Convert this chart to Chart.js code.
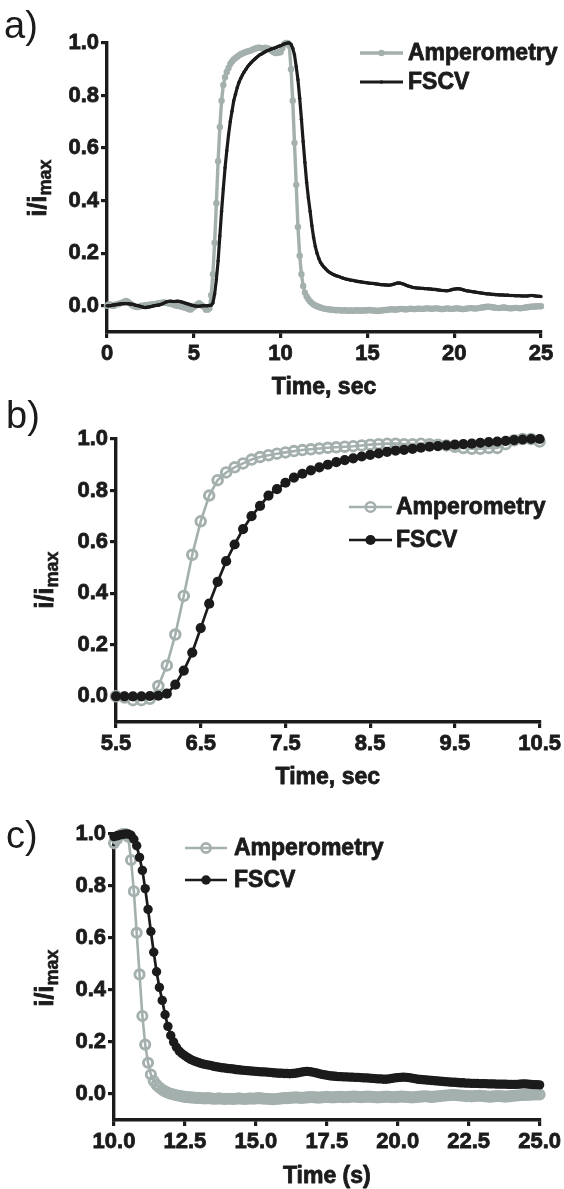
<!DOCTYPE html>
<html><head><meta charset="utf-8">
<script src="https://cdn.jsdelivr.net/npm/chart.js@4.4.1/dist/chart.umd.min.js"></script>
<style>
html,body{margin:0;padding:0;background:#fff;width:564px;height:1189px;overflow:hidden}
.p{position:absolute;left:0;width:564px}
</style></head><body>
<div class="p" style="top:0;height:400px"><canvas id="ca"></canvas></div>
<div class="p" style="top:400px;height:390px"><canvas id="cb"></canvas></div>
<div class="p" style="top:790px;height:399px"><canvas id="cc"></canvas></div>
<script>
// ---- data (time in s, normalised current i/imax) ----
const time = [
0.0,0.1,0.2,0.3,0.4,0.5,0.6,0.7,0.8,0.9,
1.0,1.1,1.2,1.3,1.4,1.5,1.6,1.7,1.8,1.9,
2.0,2.1,2.2,2.3,2.4,2.5,2.6,2.7,2.8,2.9,
3.0,3.1,3.2,3.3,3.4,3.5,3.6,3.7,3.8,3.9,
4.0,4.1,4.2,4.3,4.4,4.5,4.6,4.7,4.8,4.9,
5.0,5.1,5.2,5.3,5.4,5.5,5.6,5.7,5.8,5.9,
6.0,6.1,6.2,6.3,6.4,6.5,6.6,6.7,6.8,6.9,
7.0,7.1,7.2,7.3,7.4,7.5,7.6,7.7,7.8,7.9,
8.0,8.1,8.2,8.3,8.4,8.5,8.6,8.7,8.8,8.9,
9.0,9.1,9.2,9.3,9.4,9.5,9.6,9.7,9.8,9.9,
10.0,10.1,10.2,10.3,10.4,10.5,10.6,10.7,10.8,10.9,
11.0,11.1,11.2,11.3,11.4,11.5,11.6,11.7,11.8,11.9,
12.0,12.1,12.2,12.3,12.4,12.5,12.6,12.7,12.8,12.9,
13.0,13.1,13.2,13.3,13.4,13.5,13.6,13.7,13.8,13.9,
14.0,14.1,14.2,14.3,14.4,14.5,14.6,14.7,14.8,14.9,
15.0,15.1,15.2,15.3,15.4,15.5,15.6,15.7,15.8,15.9,
16.0,16.1,16.2,16.3,16.4,16.5,16.6,16.7,16.8,16.9,
17.0,17.1,17.2,17.3,17.4,17.5,17.6,17.7,17.8,17.9,
18.0,18.1,18.2,18.3,18.4,18.5,18.6,18.7,18.8,18.9,
19.0,19.1,19.2,19.3,19.4,19.5,19.6,19.7,19.8,19.9,
20.0,20.1,20.2,20.3,20.4,20.5,20.6,20.7,20.8,20.9,
21.0,21.1,21.2,21.3,21.4,21.5,21.6,21.7,21.8,21.9,
22.0,22.1,22.2,22.3,22.4,22.5,22.6,22.7,22.8,22.9,
23.0,23.1,23.2,23.3,23.4,23.5,23.6,23.7,23.8,23.9,
24.0,24.1,24.2,24.3,24.4,24.5,24.6,24.7,24.8,24.9,
25.0];

const amperometry = [
0.000,0.005,0.005,0.000,0.000,0.005,0.005,0.008,0.010,0.012,
0.015,0.018,0.015,0.010,0.005,0.000,-0.003,-0.005,-0.005,-0.003,
0.000,0.000,0.002,0.003,0.003,0.005,0.005,0.005,0.007,0.008,
0.010,0.010,0.012,0.012,0.010,0.010,0.008,0.007,0.005,0.003,
0.000,0.000,-0.002,-0.004,-0.006,-0.008,-0.010,-0.012,-0.015,-0.010,
-0.005,0.000,0.005,0.010,0.005,0.000,-0.005,-0.015,-0.015,-0.010,
0.040,0.120,0.240,0.390,0.550,0.680,0.780,0.840,0.870,0.890,
0.905,0.920,0.930,0.937,0.943,0.948,0.953,0.957,0.960,0.963,
0.966,0.968,0.970,0.972,0.975,0.978,0.980,0.982,0.982,0.980,
0.980,0.982,0.980,0.978,0.975,0.970,0.965,0.962,0.962,0.965,
0.965,0.980,0.995,1.000,1.000,0.990,0.900,0.780,0.620,0.460,
0.300,0.190,0.120,0.075,0.050,0.035,0.025,0.016,0.010,0.005,
0.001,-0.002,-0.005,-0.007,-0.009,-0.011,-0.012,-0.013,-0.014,-0.015,
-0.015,-0.016,-0.017,-0.016,-0.017,-0.018,-0.018,-0.017,-0.018,-0.019,
-0.018,-0.018,-0.019,-0.018,-0.017,-0.018,-0.019,-0.018,-0.017,-0.018,
-0.017,-0.016,-0.017,-0.018,-0.018,-0.019,-0.020,-0.019,-0.018,-0.017,
-0.016,-0.016,-0.015,-0.014,-0.013,-0.014,-0.015,-0.014,-0.013,-0.012,
-0.012,-0.013,-0.014,-0.013,-0.012,-0.011,-0.012,-0.013,-0.012,-0.011,
-0.011,-0.012,-0.012,-0.011,-0.010,-0.010,-0.011,-0.012,-0.011,-0.010,
-0.010,-0.011,-0.012,-0.013,-0.012,-0.011,-0.010,-0.011,-0.012,-0.012,
-0.011,-0.010,-0.010,-0.011,-0.012,-0.013,-0.012,-0.011,-0.010,-0.009,
-0.009,-0.010,-0.011,-0.010,-0.009,-0.008,-0.007,-0.006,-0.005,-0.004,
-0.004,-0.005,-0.006,-0.007,-0.008,-0.008,-0.009,-0.008,-0.007,-0.007,
-0.008,-0.009,-0.010,-0.010,-0.009,-0.008,-0.008,-0.009,-0.010,-0.009,
-0.008,-0.007,-0.006,-0.005,-0.004,-0.004,-0.003,-0.003,-0.002,-0.002,
-0.002];

const fscv = [
0.000,0.000,0.000,0.002,0.003,0.004,0.005,0.006,0.007,0.008,
0.008,0.008,0.008,0.007,0.006,0.005,0.003,0.001,0.000,-0.002,
-0.004,-0.006,-0.007,-0.006,-0.005,-0.004,-0.002,0.000,0.001,0.002,
0.003,0.005,0.008,0.011,0.014,0.016,0.017,0.017,0.016,0.016,
0.017,0.017,0.016,0.014,0.012,0.010,0.008,0.006,0.004,0.002,
0.000,-0.001,-0.002,-0.002,-0.001,0.000,0.000,0.000,0.000,0.001,
0.002,0.010,0.045,0.100,0.170,0.265,0.360,0.445,0.525,0.590,
0.650,0.700,0.740,0.780,0.805,0.830,0.850,0.865,0.878,0.890,
0.900,0.910,0.918,0.925,0.932,0.938,0.944,0.950,0.955,0.958,
0.962,0.966,0.970,0.972,0.975,0.978,0.980,0.982,0.985,0.988,
0.990,0.993,0.996,0.998,1.000,1.000,0.995,0.980,0.955,0.910,
0.860,0.790,0.710,0.625,0.545,0.470,0.410,0.360,0.305,0.260,
0.225,0.200,0.180,0.165,0.155,0.147,0.140,0.133,0.128,0.124,
0.120,0.117,0.114,0.112,0.110,0.107,0.105,0.103,0.101,0.100,
0.098,0.097,0.096,0.094,0.093,0.092,0.091,0.090,0.089,0.088,
0.087,0.086,0.085,0.085,0.084,0.083,0.082,0.081,0.080,0.080,
0.079,0.079,0.078,0.079,0.080,0.082,0.084,0.086,0.087,0.086,
0.084,0.082,0.079,0.076,0.074,0.072,0.070,0.069,0.068,0.067,
0.067,0.066,0.066,0.065,0.065,0.064,0.064,0.063,0.062,0.062,
0.061,0.060,0.059,0.058,0.058,0.057,0.057,0.058,0.060,0.062,
0.063,0.064,0.065,0.064,0.063,0.061,0.059,0.057,0.056,0.055,
0.054,0.053,0.052,0.051,0.050,0.049,0.048,0.047,0.046,0.045,
0.045,0.044,0.043,0.043,0.042,0.042,0.041,0.041,0.041,0.040,
0.040,0.040,0.039,0.039,0.039,0.038,0.038,0.038,0.038,0.037,
0.037,0.037,0.037,0.038,0.039,0.039,0.038,0.037,0.036,0.036,
0.035];

const seriesNames = ['Amperometry', 'FSCV'];
const panelLabels = ['a)', 'b)', 'c)'];
const xTitles = ['Time, sec', 'Time, sec', 'Time (s)'];
const yTicks = [0, 0.2, 0.4, 0.6, 0.8, 1.0];
const xTicksA = [0, 5, 10, 15, 20, 25];
const xTicksB = [5.5, 6.5, 7.5, 8.5, 9.5, 10.5];
const xTicksC = [10, 12.5, 15, 17.5, 20, 22.5, 25];

// ---- styling ----
const FONT = '"Liberation Sans", Arial, Helvetica, sans-serif';
const GRAY = '#a4b0ae';
const BLACK = '#1b1b1b';
Chart.defaults.font.family = FONT;
Chart.defaults.color = BLACK;

function pts(vals, lo, hi) {
  const out = [];
  for (let i = 0; i < time.length; i++) {
    if (time[i] >= lo - 1e-9 && time[i] <= hi + 1e-9) out.push({x: time[i], y: vals[i]});
  }
  return out;
}

function boldText(ctx, s, x, y, sw) {
  ctx.lineWidth = sw; ctx.strokeStyle = BLACK; ctx.lineJoin = 'round';
  ctx.strokeText(s, x, y); ctx.fillText(s, x, y);
}

const extras = {
  id: 'extras',
  afterDraw(chart, args, o) {
    const ctx = chart.ctx, ca = chart.chartArea;
    ctx.save();
    ctx.fillStyle = BLACK;
    // panel letter
    ctx.font = 'normal 38px ' + FONT;
    ctx.textAlign = 'left'; ctx.textBaseline = 'alphabetic';
    ctx.fillText(o.label, o.labelX, o.labelY);
    // x title
    ctx.font = 'bold 23px ' + FONT;
    ctx.textAlign = 'center'; ctx.textBaseline = 'middle';
    boldText(ctx, o.xTitle, (ca.left + ca.right) / 2, o.xTitleY, 0.8);
    // y title i/i_max
    ctx.save();
    ctx.translate(o.yTitleX, o.yTitleY);
    ctx.rotate(-Math.PI / 2);
    ctx.textAlign = 'left'; ctx.textBaseline = 'alphabetic';
    ctx.font = 'bold 25px ' + FONT; const w1 = ctx.measureText('i/i').width;
    ctx.font = 'bold 18px ' + FONT; const w2 = ctx.measureText('max').width;
    const x0 = -(w1 + w2) / 2;
    ctx.font = 'bold 25px ' + FONT; boldText(ctx, 'i/i', x0, 0, 0.8);
    ctx.font = 'bold 18px ' + FONT; boldText(ctx, 'max', x0 + w1, 5, 0.6);
    ctx.restore();
    // legend
    const lg = o.legend;
    const dsets = chart.data.datasets.slice().sort((a, b) => a.legendIndex - b.legendIndex);
    dsets.forEach((ds, k) => {
      const y = lg.rows[k];
      ctx.strokeStyle = ds.borderColor; ctx.lineWidth = ds.borderWidth;
      ctx.beginPath(); ctx.moveTo(lg.x1, y); ctx.lineTo(lg.x2, y); ctx.stroke();
      ctx.fillStyle = ds.pointBackgroundColor; ctx.strokeStyle = ds.pointBorderColor;
      Chart.helpers.drawPoint(ctx, {pointStyle: 'circle', radius: ds.pointRadius, borderWidth: ds.pointBorderWidth, rotation: 0}, (lg.x1 + lg.x2) / 2, y);
      ctx.fillStyle = BLACK;
      ctx.font = 'bold 23px ' + FONT;
      ctx.textAlign = 'left'; ctx.textBaseline = 'middle';
      boldText(ctx, ds.label, lg.tx, y + 1, 0.8);
    });
    ctx.restore();
  }
};

function makePanel(id, p) {
  const axis = (ticksArr, isX) => ({
    type: 'linear',
    min: isX ? p.xMin : -0.1,
    max: isX ? p.xMax : 1.0,
    afterBuildTicks: s => { s.ticks = ticksArr.map(v => ({value: v})); },
    afterFit: s => { if (isX) s.height = p.H - p.area.bottom; else s.width = p.area.left; },
    border: {display: true, color: BLACK, width: 3.4},
    grid: {display: true, drawOnChartArea: false, drawTicks: true, tickLength: 6, color: BLACK, lineWidth: 3.2, tickWidth: 3.2},
    ticks: {
      padding: isX ? 3 : 2, color: BLACK, autoSkip: false, maxRotation: 0,
      font: {size: 22, weight: 'bold'},
      textStrokeWidth: 0.8, textStrokeColor: BLACK,
      callback: v => v.toFixed(isX ? p.dec : 1)
    }
  });
  return new Chart(document.getElementById(id), {
    type: 'line',
    data: {
      datasets: [
        {label: seriesNames[0], legendIndex: 0, order: 2, data: pts(amperometry, p.xMin, p.xMax),
         borderColor: GRAY, borderWidth: p.amp.lw, pointRadius: p.amp.r, pointBorderWidth: p.amp.pbw,
         pointBorderColor: GRAY, pointBackgroundColor: p.amp.fill, clip: false},
        {label: seriesNames[1], legendIndex: 1, order: 1, data: pts(fscv, p.xMin, p.xMax),
         borderColor: BLACK, borderWidth: p.fs.lw, pointRadius: p.fs.r, pointBorderWidth: p.fs.pbw,
         pointBorderColor: BLACK, pointBackgroundColor: BLACK, clip: false}
      ]
    },
    options: {
      responsive: true, maintainAspectRatio: false, animation: false,
      devicePixelRatio: 1,
      layout: {padding: {left: 0, top: p.area.top, right: 564 - p.area.right, bottom: 0}},
      elements: {line: {tension: 0}, point: {hoverRadius: 0}},
      plugins: {legend: {display: false}, tooltip: {enabled: false}, extras: p.extras},
      events: [],
      scales: {x: axis(p.xTicks, true), y: axis(yTicks, false)}
    },
    plugins: [extras]
  });
}

makePanel('ca', {
  H: 400, xMin: 0, xMax: 25, xTicks: xTicksA, dec: 0,
  area: {left: 107, right: 541, top: 43, bottom: 332},
  amp: {lw: 3.4, r: 3.2, pbw: 0, fill: GRAY},
  fs: {lw: 3.2, r: 1.7, pbw: 0},
  extras: {label: panelLabels[0], labelX: 4, labelY: 38, xTitle: xTitles[0], xTitleY: 388,
           yTitleX: 46, yTitleY: 188,
           legend: {x1: 360, x2: 403, tx: 408, rows: [53, 82]}}
});
makePanel('cb', {
  H: 390, xMin: 5.5, xMax: 10.5, xTicks: xTicksB, dec: 1,
  area: {left: 116, right: 540, top: 39, bottom: 322},
  amp: {lw: 2.6, r: 4.8, pbw: 2.9, fill: 'rgba(255,255,255,0)'},
  fs: {lw: 2.7, r: 5.1, pbw: 0},
  extras: {label: panelLabels[1], labelX: 6, labelY: 28, xTitle: xTitles[1], xTitleY: 378,
           yTitleX: 53, yTitleY: 180,
           legend: {x1: 349, x2: 392, tx: 396, rows: [107, 140]}}
});
makePanel('cc', {
  H: 399, xMin: 10, xMax: 25, xTicks: xTicksC, dec: 1,
  area: {left: 114, right: 542, top: 44, bottom: 330},
  amp: {lw: 2.6, r: 4.6, pbw: 2.9, fill: 'rgba(255,255,255,0)'},
  fs: {lw: 2.7, r: 4.7, pbw: 0},
  extras: {label: panelLabels[2], labelX: 6, labelY: 58, xTitle: xTitles[2], xTitleY: 387,
           yTitleX: 53, yTitleY: 188,
           legend: {x1: 185, x2: 227, tx: 234, rows: [58, 90]}}
});
</script>
</body></html>
